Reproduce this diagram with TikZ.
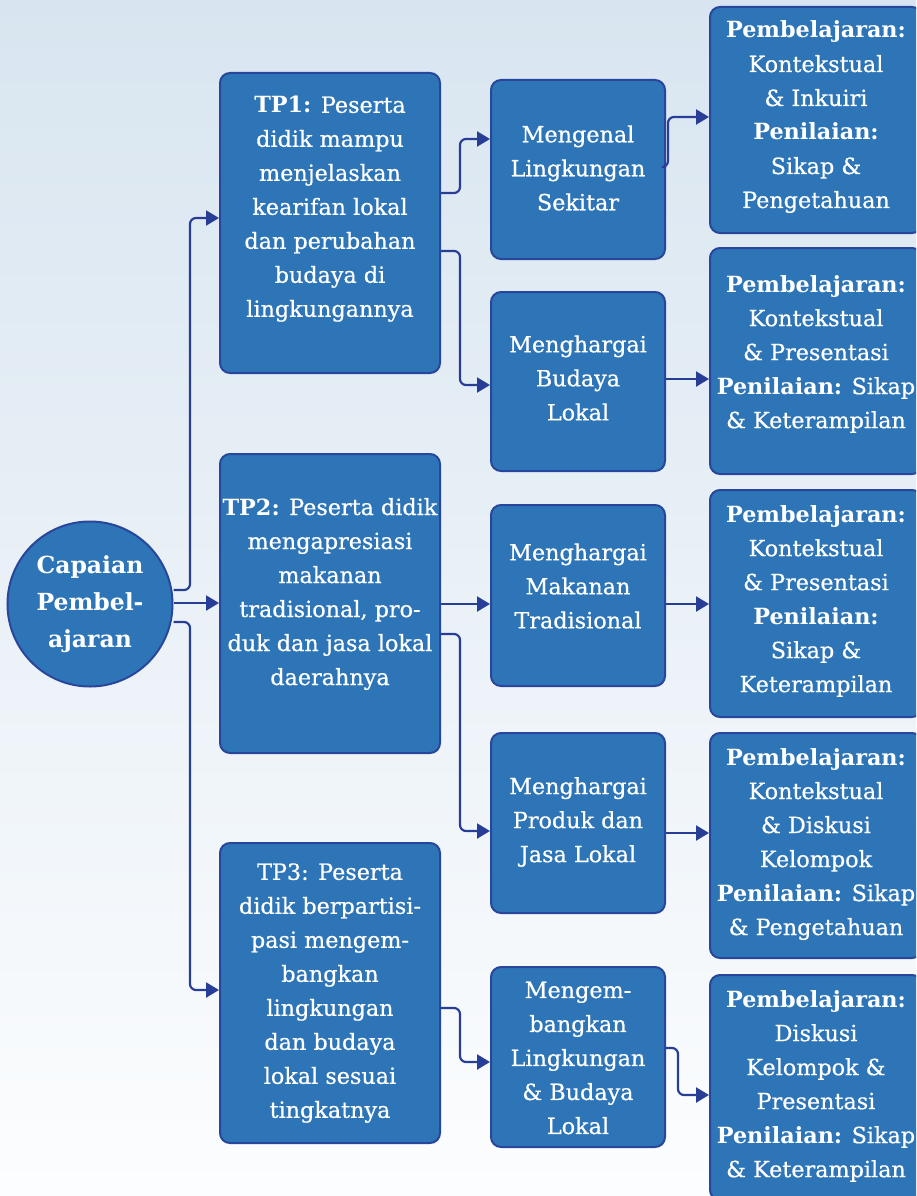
\documentclass[tikz,border=0pt]{standalone}
\usepackage{fontspec}
\setmainfont{DejaVu Serif}[UprightFeatures={FakeBold=0.6}]
\usetikzlibrary{arrows.meta}
\definecolor{bfill}{RGB}{46,117,184}
\definecolor{bdraw}{RGB}{40,70,155}
\definecolor{lcol}{RGB}{40,62,150}
\definecolor{bgtop}{RGB}{216,229,240}
\definecolor{bgbot}{RGB}{252,253,254}
% name, x1, y1, x2, y2, text y, text
\newcommand\mybox[7]{%
  \node[boxstyle, minimum width={#4-#2}, minimum height={#5-#3}] (#1) at ({(#2+#4)/2},{(#3+#5)/2}) {};
  \node[txt] (#1t) at ({(#2+#4)/2},#6) {#7};}
\begin{document}
\begin{tikzpicture}[x=1pt,y=-1pt,
  boxstyle/.style={draw=bdraw, line width=2pt, fill=bfill, rounded corners=10pt, inner sep=0pt},
  txt/.style={text=white, align=center, font=\fontsize{22.3}{34}\selectfont, inner sep=0pt},
  conn/.style={draw=lcol, line width=2.2pt, rounded corners=6pt, -{Triangle[length=13pt,width=15pt]}},
]
\useasboundingbox (0,0) rectangle (916,1196);
\clip (0,0) rectangle (916,1196);
\shade[top color=bgtop, bottom color=bgbot] (0,0) rectangle (916,1196);

% centre circle
\node[circle, draw=bdraw, line width=2pt, fill=bfill, minimum size=165pt, inner sep=0pt,
      text=white, align=center, font=\bfseries\fontsize{23.5}{37}\selectfont] (cp) at (90,604)
      {Capaian\\Pembel-\\ajaran};

% TP boxes
\mybox{tp1}{220}{73}{440}{373}{209}{\textbf{TP1:} Peserta\\didik mampu\\menjelaskan\\kearifan lokal\\dan perubahan\\budaya di\\lingkungannya}
\mybox{tp2}{220}{454}{440}{753}{594}{\textbf{TP2:} Peserta didik\\mengapresiasi\\makanan\\tradisional, pro-\\duk dan jasa lokal\\daerahnya}
\mybox{tp3}{220}{843}{440}{1143}{993}{TP3: Peserta\\didik berpartisi-\\pasi mengem-\\bangkan\\lingkungan\\dan budaya\\lokal sesuai\\tingkatnya}

% middle boxes
\mybox{m1}{491}{80}{665}{259}{168}{Mengenal\\Lingkungan\\Sekitar}
\mybox{m2}{491}{292}{665}{471}{378}{Menghargai\\Budaya\\Lokal}
\mybox{m3}{491}{505}{665}{686}{586}{Menghargai\\Makanan\\Tradisional}
\mybox{m4}{491}{733}{665}{913}{822}{Menghargai\\Produk dan\\Jasa Lokal}
\mybox{m5}{491}{967}{665}{1147}{1058}{Mengem-\\bangkan\\Lingkungan\\\& Budaya\\Lokal}

% right boxes
\mybox{r1}{710}{7}{922}{233}{117}{\textbf{Pembelajaran:}\\Kontekstual\\\& Inkuiri\\\textbf{Penilaian:}\\Sikap \&\\Pengetahuan}
\mybox{r2}{710}{248}{922}{474}{354}{\textbf{Pembelajaran:}\\Kontekstual\\\& Presentasi\\\textbf{Penilaian:} Sikap\\\& Keterampilan}
\mybox{r3}{710}{490}{922}{717}{601}{\textbf{Pembelajaran:}\\Kontekstual\\\& Presentasi\\\textbf{Penilaian:}\\Sikap \&\\Keterampilan}
\mybox{r4}{710}{733}{922}{958}{844}{\textbf{Pembelajaran:}\\Kontekstual\\\& Diskusi\\Kelompok\\\textbf{Penilaian:} Sikap\\\& Pengetahuan}
\mybox{r5}{710}{975}{922}{1200}{1086}{\textbf{Pembelajaran:}\\Diskusi\\Kelompok \&\\Presentasi\\\textbf{Penilaian:} Sikap\\\& Keterampilan}

% connectors
\draw[conn] (cp.east |- 0,590) -- (190,590) -- (190,218) -- (tp1.west |- 0,218);
\draw[conn] (cp.east |- 0,603) -- (tp2.west |- 0,603);
\draw[conn] (cp.east |- 0,622) -- (190,622) -- (190,990) -- (tp3.west |- 0,990);

\draw[conn] (tp1.east |- 0,193) -- (460,193) -- (460,139) -- (m1.west |- 0,139);
\draw[conn] (tp1.east |- 0,251) -- (460,251) -- (460,385) -- (m2.west |- 0,385);
\draw[conn] (tp2.east |- 0,604) -- (m3.west |- 0,604);
\draw[conn] (tp2.east |- 0,634) -- (460,634) -- (460,831) -- (m4.west |- 0,831);
\draw[conn] (tp3.east |- 0,1008) -- (460,1008) -- (460,1062) -- (m5.west |- 0,1062);

\draw[conn] (m1.east |- 0,167) -- (668,167) -- (668,117) -- (r1.west |- 0,117);
\draw[conn] (m2.east |- 0,379) -- (r2.west |- 0,379);
\draw[conn] (m3.east |- 0,604) -- (r3.west |- 0,604);
\draw[conn] (m4.east |- 0,833) -- (r4.west |- 0,833);
\draw[conn] (m5.east |- 0,1048) -- (678,1048) -- (678,1095) -- (r5.west |- 0,1095);
\end{tikzpicture}
\end{document}
